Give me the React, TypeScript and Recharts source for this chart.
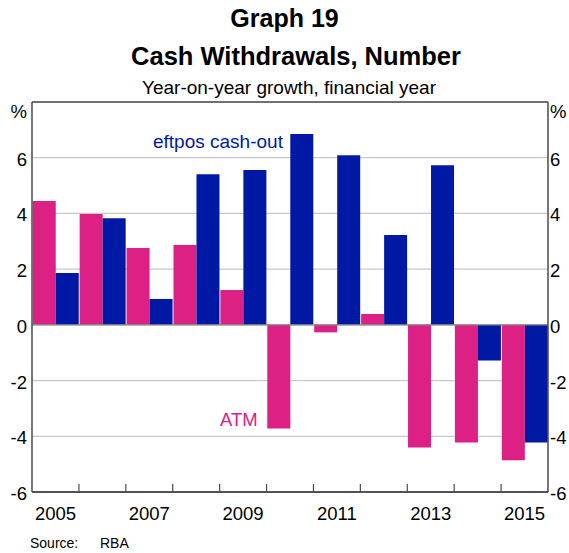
import { BarChart, Bar, XAxis, YAxis, CartesianGrid, ReferenceLine } from "recharts";

const years = ["2005", "2006", "2007", "2008", "2009", "2010", "2011", "2012", "2013", "2014", "2015"];
const atm = [4.45, 3.98, 2.76, 2.87, 1.25, -3.72, -0.27, 0.39, -4.4, -4.22, -4.86];
const eftpos = [1.86, 3.83, 0.93, 5.41, 5.56, 6.85, 6.09, 3.23, 5.73, -1.28, -4.22];
const yTicks = [-6, -4, -2, 0, 2, 4, 6, 8];

const PINK = "#DD2083";
const BLUE = "#0019A5";
const FRAME = "#4a4a4a";
const FONT = "Arial, 'Liberation Sans', sans-serif";
const PLOT_W = 516;

const data = years.map((y, i) => ({ year: y, atm: atm[i], eftpos: eftpos[i] }));

// year labels on every other band, small ticks on band edges
function XTick(props: any) {
  const { x, y, payload, index } = props;
  const bw = PLOT_W / years.length;
  const edge = x - bw / 2;
  return (
    <g>
      {index > 0 && <line x1={edge} x2={edge} y1={y} y2={y - 8} stroke={FRAME} strokeWidth={1.2} />}
      {index % 2 === 0 && (
        <text x={x} y={y + 28} textAnchor="middle" fontSize={18.5} fontFamily={FONT} fill="#000">
          {payload.value}
        </text>
      )}
    </g>
  );
}

function YTick(props: any) {
  const { x, y, payload, side } = props;
  const v = payload.value;
  const top = v === 8;
  return (
    <text
      x={x}
      y={top ? y + 16 : y + 8}
      textAnchor={side === "l" ? "end" : "start"}
      fontSize={18.5}
      fontFamily={FONT}
      fill="#000"
    >
      {top ? "%" : v}
    </text>
  );
}

export default function App() {
  return (
    <div style={{ position: "absolute", left: 0, top: 0, width: 569, height: 553, background: "#fff" }}>
      <BarChart
        width={569}
        height={553}
        data={data}
        margin={{ top: 102, right: 0, left: 0, bottom: 31 }}
        barCategoryGap={0.75}
        barGap={0}
      >
        <CartesianGrid yAxisId="l" vertical={false} stroke="#c8c8c8" strokeWidth={1.2} />
        <XAxis
          dataKey="year"
          height={30}
          interval={0}
          tickSize={0}
          tickMargin={0}
          tickLine={false}
          axisLine={{ stroke: FRAME, strokeWidth: 1.5 }}
          tick={<XTick />}
        />
        <YAxis
          yAxisId="l"
          width={32}
          domain={[-6, 8]}
          ticks={yTicks}
          interval={0}
          tickSize={3}
          tickMargin={2}
          tickLine={false}
          axisLine={{ stroke: FRAME, strokeWidth: 1.5 }}
          tick={<YTick side="l" />}
        />
        <YAxis
          yAxisId="r"
          orientation="right"
          width={21}
          domain={[-6, 8]}
          allowDataOverflow
          ticks={yTicks}
          interval={0}
          tickSize={0}
          tickMargin={2}
          tickLine={false}
          axisLine={{ stroke: FRAME, strokeWidth: 1.5 }}
          tick={<YTick side="r" />}
        />
        <Bar yAxisId="l" dataKey="atm" fill={PINK} isAnimationActive={false} />
        <Bar yAxisId="l" dataKey="eftpos" fill={BLUE} isAnimationActive={false} />
        <ReferenceLine yAxisId="l" y={0} stroke="#888" strokeWidth={1.2} />
        <ReferenceLine yAxisId="r" y={8} ifOverflow="extendDomain" stroke={FRAME} strokeWidth={1.5} />
        <ReferenceLine yAxisId="r" y={-6} ifOverflow="extendDomain" stroke={FRAME} strokeWidth={1.5} />

        <text x={284.5} y={27} textAnchor="middle" fontSize={25} fontWeight="bold" fontFamily={FONT} fill="#000">
          Graph 19
        </text>
        <text x={296} y={65} textAnchor="middle" fontSize={25.5} fontWeight="bold" fontFamily={FONT} fill="#000">
          Cash Withdrawals, Number
        </text>
        <text x={289} y={94} textAnchor="middle" fontSize={19} fontFamily={FONT} fill="#000">
          Year-on-year growth, financial year
        </text>
        <text x={153} y={148} fontSize={19} fontFamily={FONT} fill={BLUE}>
          eftpos cash-out
        </text>
        <text x={220} y={426} fontSize={18.5} fontFamily={FONT} fill={PINK}>
          ATM
        </text>
        <text x={30} y={548} fontSize={14} fontFamily={FONT} fill="#000">
          Source:
        </text>
        <text x={100} y={548} fontSize={14} fontFamily={FONT} fill="#000">
          RBA
        </text>
      </BarChart>
    </div>
  );
}
